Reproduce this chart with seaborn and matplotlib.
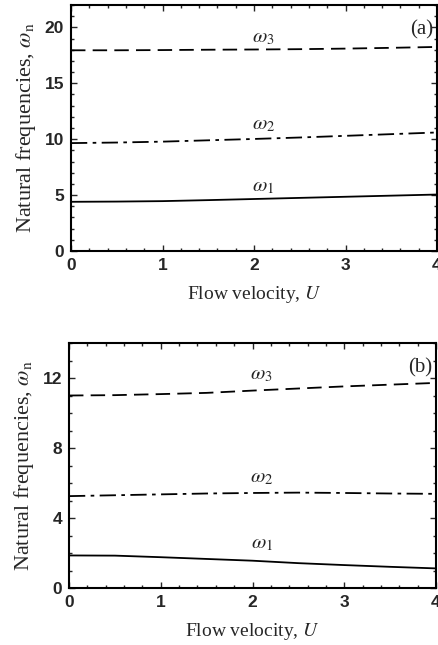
import matplotlib
matplotlib.use("Agg")
import matplotlib.pyplot as plt
import seaborn as sns
import pandas as pd
from matplotlib.ticker import MultipleLocator

# Data
u = [0.0, 0.5, 1.0, 1.5, 2.0, 2.5, 3.0, 3.5, 4.0]
a_w1 = [4.40, 4.42, 4.46, 4.55, 4.65, 4.75, 4.85, 4.95, 5.05]
a_w2 = [9.65, 9.70, 9.78, 9.90, 10.02, 10.15, 10.30, 10.45, 10.60]
a_w3 = [17.95, 17.95, 17.97, 18.00, 18.02, 18.05, 18.10, 18.17, 18.25]
b_w1 = [1.86, 1.85, 1.76, 1.66, 1.56, 1.42, 1.31, 1.21, 1.12]
b_w2 = [5.25, 5.30, 5.35, 5.40, 5.43, 5.45, 5.43, 5.40, 5.38]
b_w3 = [11.00, 11.02, 11.08, 11.15, 11.28, 11.40, 11.52, 11.62, 11.72]
panel_tags = ["(a)", "(b)"]
ylims = [22, 14]
ymajor = [5, 4]

sns.set_theme(style="ticks")
plt.rcParams["font.family"] = ["Liberation Sans", "DejaVu Sans"]

fig = plt.figure(figsize=(4.38, 6.45), dpi=100)
ax_a = fig.add_axes([71 / 438, 1 - 251 / 645, 366 / 438, 246 / 645])
ax_b = fig.add_axes([69 / 438, 1 - 588 / 645, 367 / 438, 245 / 645])

panels = [
    (ax_a, a_w1, a_w2, a_w3, [(2.1, 5.7), (2.1, 11.3), (2.1, 19.1)]),
    (ax_b, b_w1, b_w2, b_w3, [(2.1, 2.5), (2.1, 6.3), (2.1, 12.2)]),
]

serif = "Liberation Serif"
for i, (ax, w1, w2, w3, lab_pos) in enumerate(panels):
    df = pd.DataFrame({"U": u, "w1": w1, "w2": w2, "w3": w3})
    sns.lineplot(data=df, x="U", y="w1", ax=ax, color="black", lw=1.3)
    sns.lineplot(data=df, x="U", y="w2", ax=ax, color="black", lw=1.3)
    sns.lineplot(data=df, x="U", y="w3", ax=ax, color="black", lw=1.3)
    ax.lines[1].set_dashes([9, 3, 2, 3])
    ax.lines[2].set_dashes([8, 4])
    for k, (x, y) in enumerate(lab_pos):
        ax.text(x, y, r"$\omega_{%d}$" % (k + 1), ha="center", va="center",
                fontsize=15, family=serif, math_fontfamily="stix")
    ax.text(3.96, ylims[i] * 0.9, panel_tags[i], ha="right", va="center",
            fontsize=15, family=serif)
    ax.set_xlim(0, 4)
    ax.set_ylim(0, ylims[i])
    ax.xaxis.set_major_locator(MultipleLocator(1))
    ax.xaxis.set_minor_locator(MultipleLocator(0.2))
    ax.yaxis.set_major_locator(MultipleLocator(ymajor[i]))
    ax.yaxis.set_minor_locator(MultipleLocator(1))
    ax.tick_params(which="both", direction="in", top=True, right=True,
                   labelsize=12.5, width=1, pad=5)
    ax.tick_params(which="major", length=4)
    ax.tick_params(which="minor", length=2)
    for lab in ax.get_xticklabels() + ax.get_yticklabels():
        lab.set_fontweight("bold")
    for s in ax.spines.values():
        s.set_linewidth(1.5)
        s.set_color("black")
    ax.set_xlabel(r"Flow velocity, $\it{U}$", family=serif, fontsize=14,
                  math_fontfamily="stix", labelpad=8)
    ax.set_ylabel(r"Natural frequencies, $\omega_{\rm n}$", family=serif,
                  fontsize=16, math_fontfamily="stix", labelpad=5)

fig.savefig("out.png", dpi=100)
